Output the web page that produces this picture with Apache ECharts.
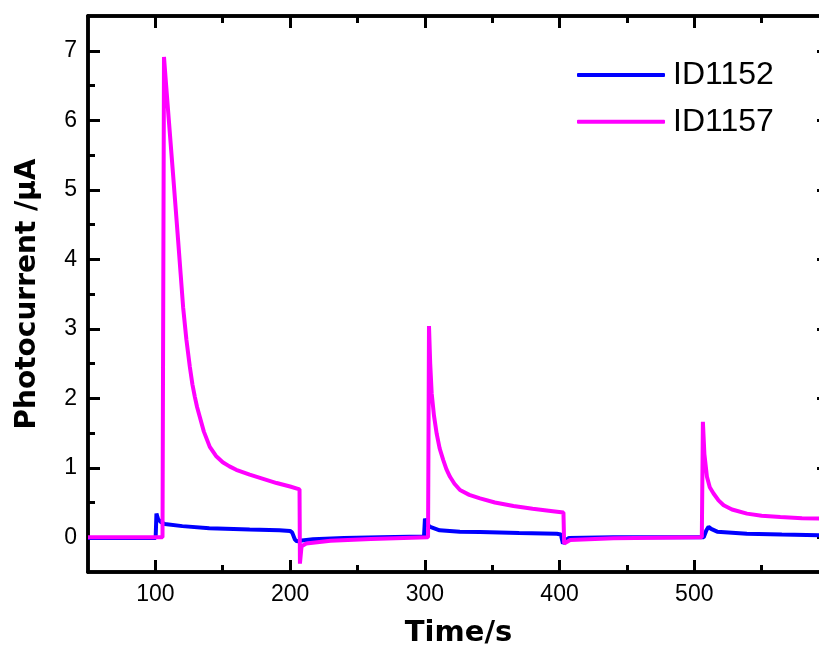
<!DOCTYPE html>
<html>
<head>
<meta charset="utf-8">
<script src="https://cdn.jsdelivr.net/npm/echarts@6/dist/echarts.min.js"></script>
<style>html,body{margin:0;padding:0;background:#fff}#c{width:819px;height:646px}</style>
</head>
<body>
<div id="c"></div>
<script>
// ---- data ----
const seriesNames = ['ID1152', 'ID1157'];
const xMajorTicks = [100, 200, 300, 400, 500, 600];
const xTickLabels = [100, 200, 300, 400, 500];
const xMinorTicks = [150, 250, 350, 450, 550];
const yMajorTicks = [0, 1, 2, 3, 4, 5, 6, 7];
const yMinorTicks = [0.5, 1.5, 2.5, 3.5, 4.5, 5.5, 6.5];

const t1152 = [50, 100.2, 100.8, 102, 104, 107, 120, 140, 170, 192, 200, 201.5, 203.5, 205, 207, 217, 240, 267, 299.4, 300.1, 301.5, 304, 311, 326, 341, 370, 398, 401, 402.5, 404, 407, 440, 480, 507, 509, 510.6, 512.5, 517, 539, 565, 593, 600];
const i1152 = [-0.01, -0.01, 0.34, 0.26, 0.22, 0.19, 0.16, 0.13, 0.11, 0.10, 0.09, 0.07, -0.03, -0.06, -0.05, -0.03, -0.01, 0.0, 0.01, 0.27, 0.18, 0.15, 0.10, 0.08, 0.075, 0.06, 0.05, 0.04, -0.09, -0.05, -0.01, 0.0, 0.0, 0.0, 0.10, 0.15, 0.12, 0.08, 0.05, 0.04, 0.03, 0.03];

const t1157 = [50, 105.3, 106.4, 108, 110, 113.1, 115, 116.9, 118.8, 120.6, 123, 125.6, 127.5, 129.3, 131, 133, 136, 140.4, 145, 150, 155, 160, 170, 180, 190, 200, 207.0,
  207.3, 208.5, 212, 230, 260, 302.4,
  303.1, 304, 305.1, 306.8, 308.8, 311, 313.7, 316, 318.7, 322, 326.1, 333, 341, 352, 365.8, 380, 395, 402.9,
  403.4, 407.9, 440, 505.6,
  506.4, 507.5, 509.4, 511.5, 514.3, 518, 521.8, 528, 539.1, 550, 563.9, 580, 600];
const i1157 = [0.0, 0.0, 6.91, 6.5, 6.0, 5.23, 4.75, 4.27, 3.78, 3.31, 2.85, 2.45, 2.2, 2.02, 1.87, 1.73, 1.52, 1.3, 1.17, 1.08, 1.02, 0.97, 0.9, 0.84, 0.78, 0.73, 0.69,
  -0.38, -0.13, -0.09, -0.05, -0.025, 0.0,
  3.04, 2.5, 2.07, 1.75, 1.49, 1.28, 1.11, 0.98, 0.87, 0.77, 0.68, 0.61, 0.56, 0.5, 0.45, 0.41, 0.375, 0.355,
  -0.09, -0.04, -0.015, 0.0,
  1.66, 1.2, 0.87, 0.72, 0.63, 0.53, 0.46, 0.40, 0.34, 0.31, 0.29, 0.275, 0.265];

// ---- chart ----
const pair = (ts, vs) => ts.map((t, k) => [t, vs[k]]);
const black = '#000';
const labelFont = {color: black, fontSize: 23, fontFamily: 'Liberation Sans'};

function xAx(pos, ticks, len, labels, extra) {
  return Object.assign({
    type: 'value', min: 50, max: 600, position: pos,
    axisLine: {show: true, onZero: false, lineStyle: {color: black, width: 3.5}},
    axisTick: {show: true, inside: true, length: len, customValues: ticks, lineStyle: {color: black, width: 3}},
    axisLabel: labels ? Object.assign({show: true, customValues: labels, margin: 11}, labelFont) : {show: false},
    splitLine: {show: false}
  }, extra || {});
}
function yAx(pos, ticks, len, labels, extra) {
  return Object.assign({
    type: 'value', min: -0.5, max: 7.5, position: pos,
    axisLine: {show: true, onZero: false, lineStyle: {color: black, width: 3.5}},
    axisTick: {show: true, inside: true, length: len, customValues: ticks, lineStyle: {color: black, width: 3}},
    axisLabel: labels ? Object.assign({show: true, customValues: labels, margin: 11}, labelFont) : {show: false},
    splitLine: {show: false}
  }, extra || {});
}

const chart = echarts.init(document.getElementById('c'), null, {renderer: 'canvas'});
chart.setOption({
  animation: false,
  backgroundColor: '#fff',
  grid: {left: 88, top: 16, right: -10, bottom: 74, containLabel: false, outerBoundsMode: 'none'},
  legend: {
    data: seriesNames, orient: 'vertical', left: 577, top: 59, padding: 0,
    icon: 'roundRect',
    itemWidth: 88, itemHeight: 4, itemGap: 14.7, selectedMode: false,
    textStyle: {color: black, fontSize: 32, lineHeight: 32, fontFamily: 'Liberation Sans', padding: [0, 0, 0, 3]}
  },
  xAxis: [
    xAx('bottom', xMajorTicks, 12, xTickLabels, {
      name: 'Time/s', nameLocation: 'middle', nameGap: 47,
      nameTextStyle: {color: black, fontSize: 29, fontWeight: 'bold', fontFamily: 'DejaVu Sans'}
    }),
    xAx('bottom', xMinorTicks, 7, null),
    xAx('top', xMajorTicks, 12, null),
    xAx('top', xMinorTicks, 7, null)
  ],
  yAxis: [
    yAx('left', yMajorTicks, 12, yMajorTicks, {
      name: 'Photocurrent /μA', nameLocation: 'middle', nameGap: 46, nameRotate: 90,
      nameTextStyle: {color: black, fontSize: 28, fontWeight: 'bold', fontFamily: 'DejaVu Sans'}
    }),
    yAx('left', yMinorTicks, 7, null),
    yAx('right', yMajorTicks, 12, null),
    yAx('right', yMinorTicks, 7, null)
  ],
  series: [
    {name: 'ID1152', type: 'line', data: pair(t1152, i1152), showSymbol: false, symbol: 'none',
     lineStyle: {color: '#0000ff', width: 4}, itemStyle: {color: '#0000ff'}, z: 2},
    {name: 'ID1157', type: 'line', data: pair(t1157, i1157), showSymbol: false, symbol: 'none',
     lineStyle: {color: '#ff00ff', width: 4}, itemStyle: {color: '#ff00ff'}, z: 3}
  ]
});
</script>
</body>
</html>
